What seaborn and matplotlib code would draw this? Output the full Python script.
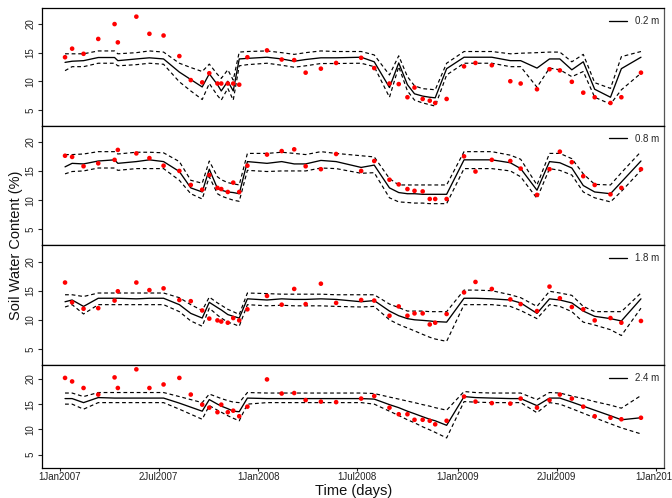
import numpy as np
import pandas as pd
import matplotlib
matplotlib.use("Agg")
import matplotlib.pyplot as plt
import seaborn as sns
from matplotlib.lines import Line2D
from matplotlib.transforms import offset_copy

# ---------------- data ----------------
dates = ["2007-01-11", "2007-01-24", "2007-02-14", "2007-03-13", "2007-04-12",
         "2007-04-18", "2007-05-22", "2007-06-15", "2007-07-11", "2007-08-09",
         "2007-08-30", "2007-09-20", "2007-10-03", "2007-10-18", "2007-10-25",
         "2007-11-06", "2007-11-16", "2007-11-27", "2007-12-12", "2008-01-17",
         "2008-02-13", "2008-03-07", "2008-03-28", "2008-04-25", "2008-05-23",
         "2008-07-08", "2008-08-01", "2008-08-29", "2008-09-15", "2008-10-01",
         "2008-10-14", "2008-10-29", "2008-11-11", "2008-11-21", "2008-12-12",
         "2009-01-13", "2009-02-03", "2009-03-05", "2009-04-08", "2009-04-27",
         "2009-05-27", "2009-06-19", "2009-07-08", "2009-07-30", "2009-08-20",
         "2009-09-10", "2009-10-09", "2009-10-29", "2009-12-04"]

depth_labels = ["0.2 m", "0.8 m", "1.8 m", "2.4 m"]

obs_02 = [14.2, 15.7, 14.8, 17.4, 20.0, 16.8, 21.3, 18.3, 18.0, 14.4,
          10.2, 9.8, 11.4, 9.6, 9.6, 9.6, 9.6, 9.4, 14.2, 15.4,
          13.8, 13.7, 11.5, 12.2, 13.2, 14.1, 12.3, 9.6, 9.5, 7.2,
          8.9, 6.9, 6.6, 6.2, 6.9, 12.6, 13.2, 12.8, 10.0, 9.6,
          8.6, 12.1, 11.9, 9.9, 8.0, 7.2, 6.2, 7.2, 11.5]
mod_02 = [13.3, 13.5, 13.6, 14.15, 14.15, 13.6, 13.9, 14.1, 13.9, 11.6,
          10.3, 9.0, 11.3, 9.4, 8.3, 10.0, 8.3, 13.9, 14.0, 14.2,
          13.9, 13.5, 13.8, 14.1, 14.1, 14.2, 13.4, 8.9, 13.2, 9.4,
          7.8, 7.4, 7.2, 7.1, 12.2, 14.2, 14.2, 14.2, 13.6, 13.6,
          12.3, 13.9, 13.9, 12.0, 13.4, 8.6, 7.2, 12.2, 14.2]
up_02 = [14.8, 14.8, 14.8, 15.3, 15.3, 14.8, 15.0, 15.3, 15.1, 13.15,
         12.4, 11.7, 13.0, 11.2, 10.5, 12.0, 10.2, 15.1, 15.2, 15.3,
         15.0, 14.7, 15.0, 15.3, 15.2, 15.2, 14.6, 11.1, 14.45, 10.8,
         9.2, 8.7, 8.6, 8.5, 13.15, 15.2, 15.2, 15.2, 14.8, 14.9,
         15.0, 15.1, 15.1, 13.4, 14.7, 9.75, 8.75, 14.3, 15.2]
lo_02 = [11.85, 12.55, 12.55, 13.15, 13.15, 12.7, 12.9, 13.15, 12.97, 9.9,
         8.3, 6.8, 9.6, 7.5, 6.7, 8.75, 6.7, 12.7, 12.9, 13.15,
         12.8, 12.45, 12.7, 13.1, 13.1, 13.15, 12.55, 7.2, 12.55, 8.3,
         6.7, 6.2, 5.9, 5.65, 11.1, 13.15, 13.15, 13.15, 12.55, 12.55,
         8.95, 12.3, 12.0, 10.8, 11.7, 7.2, 6.0, 8.5, 11.4]

obs_08 = [17.6, 17.4, 15.8, 16.3, 16.9, 18.6, 18.0, 17.2, 15.9, 15.0,
          12.6, 11.8, 14.3, 12.1, 11.9, 11.4, 13.0, 11.4, 15.9, 17.8,
          18.4, 18.7, 15.8, 15.3, 17.9, 15.0, 16.7, 13.5, 12.7, 11.9,
          11.6, 11.5, 10.2, 10.2, 10.2, 17.5, 14.9, 16.9, 16.7, 15.4,
          10.9, 15.3, 18.3, 16.5, 14.1, 12.6, 11.0, 12.1, 15.3]
mod_08 = [15.7, 16.3, 16.2, 16.7, 16.9, 16.3, 16.6, 16.9, 16.6, 14.9,
          12.1, 11.4, 15.3, 12.0, 11.7, 11.4, 11.3, 11.1, 16.6, 16.3,
          16.6, 16.2, 16.2, 16.8, 16.6, 15.6, 16.0, 12.1, 11.3, 11.1,
          11.1, 11.0, 11.0, 11.0, 11.0, 16.9, 16.9, 16.9, 16.4, 15.4,
          11.7, 16.6, 16.4, 15.5, 12.5, 11.4, 11.1, 13.1, 16.7]
up_08 = [17.8, 17.8, 17.9, 18.3, 18.3, 17.9, 18.2, 18.2, 18.1, 16.6,
         13.4, 12.9, 16.7, 14.0, 13.5, 13.0, 12.8, 12.6, 18.0, 18.0,
         18.2, 18.0, 17.8, 18.3, 18.0, 17.6, 17.4, 13.7, 12.6, 12.6,
         12.6, 12.6, 12.6, 12.6, 12.6, 18.3, 18.3, 18.3, 17.7, 17.0,
         12.6, 18.0, 18.0, 17.1, 14.5, 12.7, 12.6, 14.7, 18.3]
lo_08 = [14.5, 14.9, 15.0, 15.5, 15.5, 15.1, 15.4, 15.4, 15.4, 13.4,
         11.1, 10.2, 14.0, 11.1, 10.7, 10.3, 10.0, 9.8, 15.1, 14.9,
         15.0, 15.0, 15.0, 15.5, 15.4, 14.6, 14.7, 10.4, 9.7, 9.6,
         9.5, 9.5, 9.4, 9.4, 9.4, 15.4, 15.4, 15.4, 15.0, 14.0,
         10.3, 15.4, 15.1, 14.3, 11.4, 10.4, 9.7, 11.5, 15.1]

obs_18 = [16.4, 13.0, 11.9, 12.0, 13.3, 14.9, 16.4, 15.1, 15.4, 13.4,
          13.2, 11.6, 10.2, 9.9, 9.7, 9.5, 10.3, 9.9, 11.8, 14.1,
          12.6, 15.3, 12.7, 16.2, 12.9, 13.4, 13.3, 10.7, 12.3, 10.7,
          11.1, 11.1, 9.2, 9.5, 11.0, 14.7, 16.5, 15.3, 13.5, 12.7,
          11.5, 15.7, 13.7, 12.2, 11.8, 9.9, 10.3, 9.5, 9.8]
mod_18 = [13.1, 13.4, 12.3, 13.7, 13.7, 13.7, 13.6, 13.7, 13.7, 12.6,
          11.1, 10.3, 13.0, 12.1, 11.7, 10.9, 10.6, 10.3, 13.6, 13.4,
          13.6, 13.5, 13.5, 13.6, 13.5, 13.1, 13.3, 11.5, 10.7, 10.2,
          10.0, 9.9, 9.8, 9.7, 9.6, 13.7, 13.7, 13.6, 13.4, 12.9,
          11.1, 13.6, 13.4, 12.9, 11.5, 10.6, 10.2, 9.8, 13.6]
up_18 = [14.3, 14.3, 14.0, 14.6, 14.6, 14.6, 14.6, 14.6, 14.6, 13.8,
         12.6, 11.6, 13.9, 12.9, 12.5, 11.8, 11.4, 10.9, 14.6, 14.5,
         14.4, 14.4, 14.4, 14.4, 14.3, 14.3, 14.3, 12.7, 12.1, 11.5,
         11.5, 11.5, 11.4, 11.4, 11.4, 15.1, 15.1, 15.0, 14.3, 13.8,
         12.3, 14.9, 14.6, 14.2, 12.3, 11.4, 11.4, 11.4, 14.6]
lo_18 = [12.2, 12.6, 11.0, 12.6, 12.6, 12.6, 12.6, 12.6, 12.6, 11.4,
         9.8, 8.9, 12.0, 10.8, 10.3, 9.6, 9.3, 8.9, 12.6, 12.4,
         12.5, 12.4, 12.4, 12.4, 12.3, 12.2, 12.3, 10.0, 9.2, 8.6,
         8.1, 7.5, 7.0, 6.7, 6.3, 12.6, 12.6, 12.6, 12.3, 11.6,
         10.2, 12.6, 12.3, 11.4, 9.6, 9.1, 8.3, 7.3, 12.0]

obs_24 = [20.2, 19.5, 18.2, 16.9, 20.3, 18.2, 21.9, 18.2, 18.9, 20.2,
          16.9, 14.9, 14.3, 13.4, 14.9, 13.4, 13.7, 12.6, 14.5, 19.9,
          17.1, 17.2, 15.8, 15.5, 15.4, 16.1, 16.6, 14.3, 13.0, 13.0,
          11.9, 11.9, 11.7, 11.0, 11.7, 16.5, 15.5, 15.2, 15.1, 16.1,
          14.3, 15.8, 16.9, 16.1, 14.5, 12.6, 12.3, 12.0, 12.3]
mod_24 = [16.1, 16.1, 15.3, 16.3, 16.2, 16.2, 16.2, 16.2, 16.2, 15.2,
          14.4, 13.6, 15.9, 15.0, 14.6, 14.1, 13.6, 13.5, 16.2, 16.1,
          16.1, 16.1, 16.1, 16.1, 16.1, 16.1, 16.0, 14.9, 14.3, 13.6,
          13.1, 12.5, 12.0, 11.7, 10.8, 16.5, 16.3, 16.2, 16.1, 16.1,
          14.7, 16.2, 16.2, 15.4, 14.6, 13.8, 12.7, 11.9, 12.3]
up_24 = [17.2, 17.2, 16.5, 17.3, 17.3, 17.3, 17.3, 17.3, 17.3, 16.5,
         15.9, 15.3, 17.0, 16.4, 16.1, 15.7, 15.4, 15.3, 17.3, 17.2,
         17.2, 17.2, 17.2, 17.2, 17.2, 17.2, 17.1, 16.4, 16.0, 15.6,
         15.3, 14.9, 14.6, 14.3, 13.8, 17.5, 17.3, 17.2, 17.2, 17.2,
         15.9, 17.3, 17.2, 16.6, 16.1, 15.5, 14.8, 14.2, 16.7]
lo_24 = [15.0, 15.0, 14.0, 15.3, 15.3, 15.3, 15.3, 15.3, 15.3, 14.0,
         13.0, 12.0, 14.7, 13.8, 13.4, 12.7, 12.2, 11.7, 15.0, 15.3,
         15.3, 15.3, 15.3, 15.3, 15.3, 15.3, 15.0, 13.6, 12.75, 11.9,
         11.3, 10.5, 9.9, 9.4, 8.3, 15.5, 15.4, 15.3, 15.3, 15.3,
         13.3, 15.3, 15.0, 14.1, 13.2, 12.3, 11.1, 10.3, 9.1]

tick_dates = ["2007-01-01", "2007-07-02", "2008-01-01", "2008-07-01",
              "2009-01-01", "2009-07-02", "2010-01-01"]
tick_labels = ["1Jan2007", "2Jul2007", "1Jan2008", "1Jul2008",
               "1Jan2009", "2Jul2009", "1Jan2010"]
y_ticks = [5, 10, 15, 20]

panels = [
    (depth_labels[0], obs_02, mod_02, up_02, lo_02),
    (depth_labels[1], obs_08, mod_08, up_08, lo_08),
    (depth_labels[2], obs_18, mod_18, up_18, lo_18),
    (depth_labels[3], obs_24, mod_24, up_24, lo_24),
]

# ---------------- style ----------------
sns.set_style("ticks")
plt.rcParams["font.family"] = ["Liberation Sans", "DejaVu Sans"]
plt.rcParams["axes.linewidth"] = 0.9

W, H = 672, 498
fig = plt.figure(figsize=(W / 100, H / 100), dpi=100)
gs = fig.add_gridspec(4, 1, height_ratios=[117.4, 120, 119.6, 103.6], hspace=0,
                      left=42 / W, right=664 / W, top=1 - 8.3 / H, bottom=1 - 468.5 / H)

dt = pd.to_datetime(dates)
span = dt.max() - dt.min()
xlim = (dt.min() - 0.04 * span, dt.max() + 0.04 * span)

axes = []
for i, (lab, obs, mod, up, lo) in enumerate(panels):
    ax = fig.add_subplot(gs[i], sharex=axes[0] if axes else None)
    axes.append(ax)
    df = pd.DataFrame({"date": dt, "obs": obs, "mod": mod, "up": up, "lo": lo})

    for col in ["up", "lo"]:
        sns.lineplot(data=df, x="date", y=col, ax=ax, color="black", lw=0.85,
                     errorbar=None, sort=False)
        ax.lines[-1].set_dashes([3.2, 2.4])
    sns.lineplot(data=df, x="date", y="mod", ax=ax, color="black", lw=0.95,
                 errorbar=None, sort=False)
    sns.scatterplot(data=df, x="date", y="obs", ax=ax, color="#ff0000", s=11,
                    edgecolor="none", linewidth=0, zorder=3)

    ax.set_ylim(2.24, 22.76)
    ax.set_xlim(*xlim)
    ax.set_yticks(y_ticks)
    ax.set_yticklabels([str(v) for v in y_ticks], rotation=90, va="center")
    ax.tick_params(axis="y", length=3, width=0.8, pad=1.5, labelsize=7,
                   labelcolor="#222222", direction="out")
    ax.set_xlabel("")
    ax.set_ylabel("")
    for sp in ax.spines.values():
        sp.set_color("black")
        sp.set_linewidth(0.9)
    ax.spines["right"].set_color("#555555")

    handle = Line2D([], [], color="black", lw=0.95)
    ax.legend([handle], [lab], loc="upper right", frameon=False, fontsize=7,
              handlelength=1.75, handletextpad=0.9, borderpad=0, borderaxespad=0,
              bbox_to_anchor=(1, 1),
              bbox_transform=offset_copy(ax.transAxes, fig=fig, x=-4.5, y=-8, units="dots"))

for ax in axes[:-1]:
    ax.tick_params(axis="x", bottom=False, labelbottom=False)

axb = axes[-1]
axb.set_xticks(pd.to_datetime(tick_dates))
axb.set_xticklabels(tick_labels)
axb.tick_params(axis="x", length=2, width=0.8, pad=0.5, labelsize=7,
                labelcolor="#222222", direction="out", bottom=True, labelbottom=True)

fig.text(353.5 / W, 1 - 490.5 / H, "Time (days)", ha="center", va="center",
         fontsize=10.5, color="#111111")
fig.text(16 / W, 1 - 245 / H, "Soil Water Content (%)", rotation=90,
         ha="center", va="center", fontsize=10.5, color="#111111")

fig.savefig("out.png", dpi=100)
